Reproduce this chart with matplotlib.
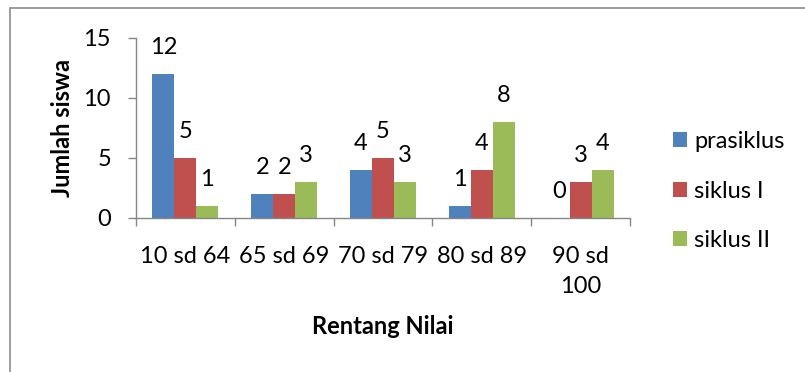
import matplotlib
matplotlib.use("Agg")
import matplotlib.pyplot as plt
import numpy as np
from matplotlib.patches import Rectangle

categories = ["10 sd 64", "65 sd 69", "70 sd 79", "80 sd 89", "90 sd\n100"]
series_names = ["prasiklus", "siklus I", "siklus II"]
prasiklus = [12, 2, 4, 1, 0]
siklus1 = [5, 2, 5, 4, 3]
siklus2 = [1, 3, 3, 8, 4]
colors = ["#4F81BD", "#C0504D", "#9BBB59"]
yticks = [0, 5, 10, 15]

plt.rcParams['font.family'] = ['Lato', 'DejaVu Sans']
FS = 17
gray = "#868686"

fig = plt.figure(figsize=(8.05, 3.72), dpi=100)
ax = fig.add_axes([136/805, 1-218/372, (630-136)/805, (218-38)/372])

x = np.arange(len(categories))
w = 1/4.5
for i, (vals, name, c) in enumerate(zip([prasiklus, siklus1, siklus2], series_names, colors)):
    pos = x + (i-1)*w
    ax.bar(pos, vals, width=w, color=c, label=name, zorder=2)
    for px, v in zip(pos, vals):
        ax.annotate(str(v), (px, v), xytext=(0, 19), textcoords="offset points",
                    ha="center", va="center", fontsize=FS, color="black")

ax.set_xlim(-0.5, len(categories)-0.5)
ax.set_ylim(0, 15)
ax.set_yticks(yticks)
ax.set_yticklabels([str(t) for t in yticks], fontsize=FS)
ax.set_xticks(x)
ax.set_xticklabels(categories, fontsize=FS, linespacing=1.55, va="top")
ax.set_xticks(np.arange(-0.5, len(categories)), minor=True)
ax.tick_params(axis="x", which="major", length=0, pad=20)
ax.tick_params(axis="x", which="minor", length=6, color=gray, width=1)
ax.tick_params(axis="y", length=6, color=gray, width=1, pad=12)
for s in ["top", "right"]:
    ax.spines[s].set_visible(False)
for s in ["left", "bottom"]:
    ax.spines[s].set_color(gray)
    ax.spines[s].set_linewidth(1)

ax.set_ylabel("Jumlah siswa", fontsize=FS, fontweight="bold")
ax.yaxis.set_label_coords(-(136-62)/494, 0.5)
ax.set_xlabel("Rentang Nilai", fontsize=FS, fontweight="bold")
ax.xaxis.set_label_coords(0.5, -(327-218)/180)
ax.xaxis.label.set_va("center")
ax.yaxis.label.set_va("center")

fig.legend(loc="center left", bbox_to_anchor=(673/805, 1-191/372), frameon=False,
           fontsize=FS, handlelength=0.6, handleheight=0.6, handletextpad=0.3,
           labelspacing=1.2, borderpad=0, borderaxespad=0)

fig.patches.append(Rectangle((10/805, -0.1), 1.2, 1.1 - 8/372, transform=fig.transFigure,
                             fill=False, edgecolor="#8c8c8c", linewidth=1.2))

fig.savefig("out.png", dpi=100)
